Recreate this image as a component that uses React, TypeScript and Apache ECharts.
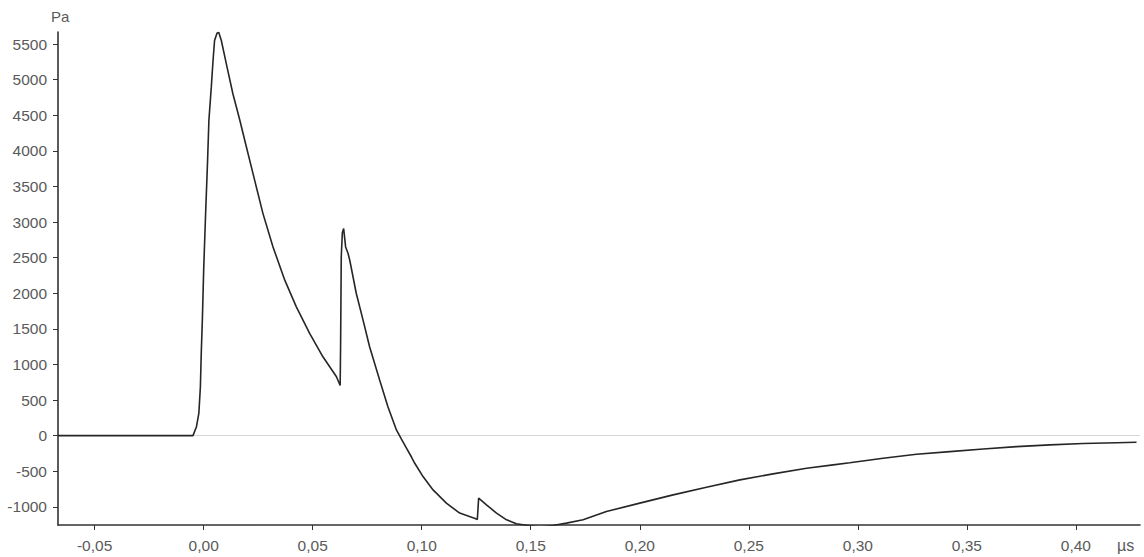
import React, { useEffect, useRef } from "react";
import * as echarts from "echarts";

// Pressure waveform: time in µs, pressure in Pa
const timeUs = [
  -0.0668, -0.0064, -0.0049, -0.0033, -0.0022, -0.0015, -0.0011, -0.0006, 0.0, 0.0009,
  0.0018, 0.0024, 0.0035, 0.0043, 0.005, 0.0061, 0.0069, 0.0081, 0.0104, 0.0134,
  0.0165, 0.0196, 0.0234, 0.0272, 0.0318, 0.0372, 0.0425, 0.0486, 0.0547, 0.0609,
  0.0626, 0.0628, 0.0631, 0.0636, 0.0642, 0.0651, 0.0662, 0.067, 0.07, 0.0731,
  0.0761, 0.0807, 0.0845, 0.0884, 0.0907, 0.093, 0.0953, 0.0968, 0.1006, 0.1052,
  0.1113, 0.1174, 0.1248, 0.1255, 0.1261, 0.1297, 0.1343, 0.1389, 0.1434, 0.1495,
  0.1546, 0.1602, 0.1664, 0.174, 0.1847, 0.2, 0.2153, 0.2306, 0.2459, 0.2611,
  0.2765, 0.2887, 0.2963, 0.3116, 0.3269, 0.3422, 0.3575, 0.3728, 0.3881, 0.4033,
  0.4186, 0.4278,
];
const pressurePa = [
  0, 0, 0, 126, 318, 687, 1160, 1623, 2324, 3123,
  3867, 4428, 4895, 5269, 5550, 5652, 5665, 5550, 5223, 4802,
  4440, 4054, 3586, 3119, 2651, 2184, 1809, 1436, 1108, 827,
  705, 1272, 2511, 2850, 2909, 2651, 2562, 2464, 1997, 1623,
  1248, 781, 407, 80, -50, -175, -300, -388, -575, -762,
  -948, -1088, -1168, -1178, -878, -972, -1088, -1182, -1238, -1266,
  -1280, -1262, -1229, -1182, -1066, -948, -832, -724, -621, -537,
  -457, -410, -380, -317, -261, -224, -187, -154, -130, -110,
  -100, -93,
];

const xTicks = [-0.05, 0.0, 0.05, 0.1, 0.15, 0.2, 0.25, 0.3, 0.35, 0.4];
const yTicks = [-1000, -500, 0, 500, 1000, 1500, 2000, 2500, 3000, 3500, 4000, 4500, 5000, 5500];

const X_MIN = -0.0668;
const X_MAX = 0.4294;
const Y_MIN = -1255;
const Y_MAX = 5670;

const FONT = "'Liberation Sans', Arial, sans-serif";
const LABEL_COLOR = "#5a5a5a";
const AXIS_COLOR = "#333333";

export default function App() {
  const ref = useRef<HTMLDivElement>(null);

  useEffect(() => {
    if (!ref.current) return;
    const chart = echarts.init(ref.current, undefined, { renderer: "svg" });
    const points = timeUs.map((t, i) => [t, pressurePa[i]]);

    chart.setOption({
      animation: false,
      backgroundColor: "#ffffff",
      grid: { left: 58, right: 4, top: 32, bottom: 32, outerBoundsMode: "none" },
      xAxis: {
        type: "value",
        min: X_MIN,
        max: X_MAX,
        axisLine: { show: true, onZero: false, lineStyle: { color: AXIS_COLOR, width: 1.6 } },
        axisTick: {
          show: true,
          length: 5,
          customValues: xTicks,
          lineStyle: { color: AXIS_COLOR, width: 1 },
        },
        axisLabel: {
          customValues: xTicks,
          margin: 12,
          color: LABEL_COLOR,
          fontFamily: FONT,
          fontSize: 15.5,
          formatter: (v: number) => v.toFixed(2).replace(".", ","),
        },
        splitLine: { show: false },
      },
      yAxis: {
        type: "value",
        min: Y_MIN,
        max: Y_MAX,
        axisLine: { show: true, onZero: false, lineStyle: { color: AXIS_COLOR, width: 1.6 } },
        axisTick: {
          show: true,
          length: 5,
          customValues: yTicks,
          lineStyle: { color: AXIS_COLOR, width: 1 },
        },
        axisLabel: {
          customValues: yTicks,
          margin: 11,
          color: LABEL_COLOR,
          fontFamily: FONT,
          fontSize: 15.5,
          formatter: (v: number) => String(Math.round(v)),
        },
        splitLine: { show: false },
      },
      graphic: [
        {
          type: "text",
          left: 51,
          top: 9,
          style: { text: "Pa", fill: LABEL_COLOR, font: `15px ${FONT}` },
        },
        {
          type: "text",
          left: 1117,
          top: 537,
          style: { text: "µs", fill: LABEL_COLOR, font: `16px ${FONT}` },
        },
      ],
      series: [
        {
          // zero reference line, kept beneath the waveform
          type: "line",
          data: [],
          z: 1,
          silent: true,
          markLine: {
            silent: true,
            symbol: "none",
            label: { show: false },
            lineStyle: { color: "#d6d6d6", width: 1, type: "solid" },
            data: [{ yAxis: 0 }],
          },
        },
        {
          type: "line",
          data: points,
          showSymbol: false,
          clip: true,
          lineStyle: { color: "#262626", width: 1.6 },
          z: 5,
        },
      ],
    });

    return () => chart.dispose();
  }, []);

  return (
    <div
      ref={ref}
      style={{ position: "fixed", left: 0, top: 0, width: 1144, height: 557 }}
    />
  );
}
